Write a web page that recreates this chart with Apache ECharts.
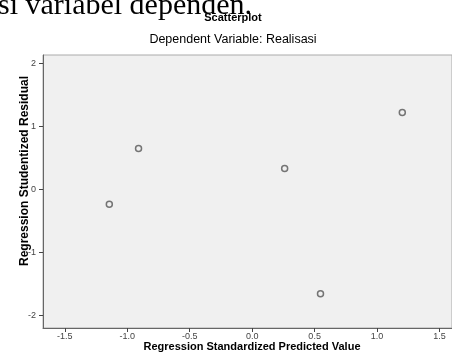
<!DOCTYPE html>
<html>
<head>
<meta charset="utf-8">
<script src="https://cdn.jsdelivr.net/npm/echarts@6/dist/echarts.min.js"></script>
<style>html,body{margin:0;padding:0;background:#fff;}#c{width:452px;height:360px;}</style>
</head>
<body>
<div id="c"></div>
<script>
const predictedValues = [-1.144, -0.91, 0.26, 0.547, 1.202];
const residualValues = [-0.238, 0.646, 0.33, -1.656, 1.217];
const xTicks = [-1.5, -1.0, -0.5, 0.0, 0.5, 1.0, 1.5];
const yTicks = [-2, -1, 0, 1, 2];
const headerText = 'si variabel dependen.';
const titleText = 'Scatterplot';
const subtitleText = 'Dependent Variable: Realisasi';
const xName = 'Regression Standardized Predicted Value';
const yName = 'Regression Studentized Residual';

const points = predictedValues.map((x, i) => [x, residualValues[i]]);
const chart = echarts.init(document.getElementById('c'), null, {renderer: 'canvas'});
const sans = 'Liberation Sans, Arial, sans-serif';
chart.setOption({
  animation: false,
  backgroundColor: '#fff',
  grid: {left: 43, top: 55, width: 411, height: 273, show: true, backgroundColor: '#f0f0f0', borderColor: '#aaa', borderWidth: 1},
  xAxis: {
    type: 'value', min: -1.675, max: 1.6,
    splitLine: {show: false},
    axisLine: {show: true, onZero: false, lineStyle: {color: '#666', width: 1}},
    axisTick: {show: true, customValues: xTicks, length: 4, lineStyle: {color: '#444'}},
    axisLabel: {customValues: xTicks, formatter: v => v.toFixed(1), fontFamily: sans, fontSize: 9, color: '#444', margin: 4}
  },
  yAxis: {
    type: 'value', min: -2.2, max: 2.13,
    splitLine: {show: false},
    axisLine: {show: true, onZero: false, lineStyle: {color: '#666', width: 1}},
    axisTick: {show: true, customValues: yTicks, length: 4, lineStyle: {color: '#444'}},
    axisLabel: {customValues: yTicks, formatter: v => String(v), fontFamily: sans, fontSize: 9, color: '#444', margin: 7}
  },
  series: [{
    type: 'scatter', data: points, symbol: 'circle', symbolSize: 6,
    itemStyle: {color: 'rgba(0,0,0,0)', borderColor: '#555', borderWidth: 1.5}
  }],
  graphic: [
    {type: 'text', left: -2, top: -9, style: {text: headerText, font: '30px "Liberation Serif", "DejaVu Serif", serif', fill: '#000'}},
    {type: 'text', x: 233, y: 18, style: {text: titleText, font: 'bold 11px ' + sans, fill: '#000', align: 'center', verticalAlign: 'middle'}},
    {type: 'text', x: 233, y: 40, style: {text: subtitleText, font: '12.5px ' + sans, fill: '#000', align: 'center', verticalAlign: 'middle'}},
    {type: 'text', x: 252, y: 347, style: {text: xName, font: 'bold 11px ' + sans, fill: '#000', align: 'center', verticalAlign: 'middle'}},
    {type: 'text', x: 25, y: 171, rotation: Math.PI / 2, style: {text: yName, font: 'bold 12px ' + sans, fill: '#000', align: 'center', verticalAlign: 'middle'}}
  ]
});
</script>
</body>
</html>
